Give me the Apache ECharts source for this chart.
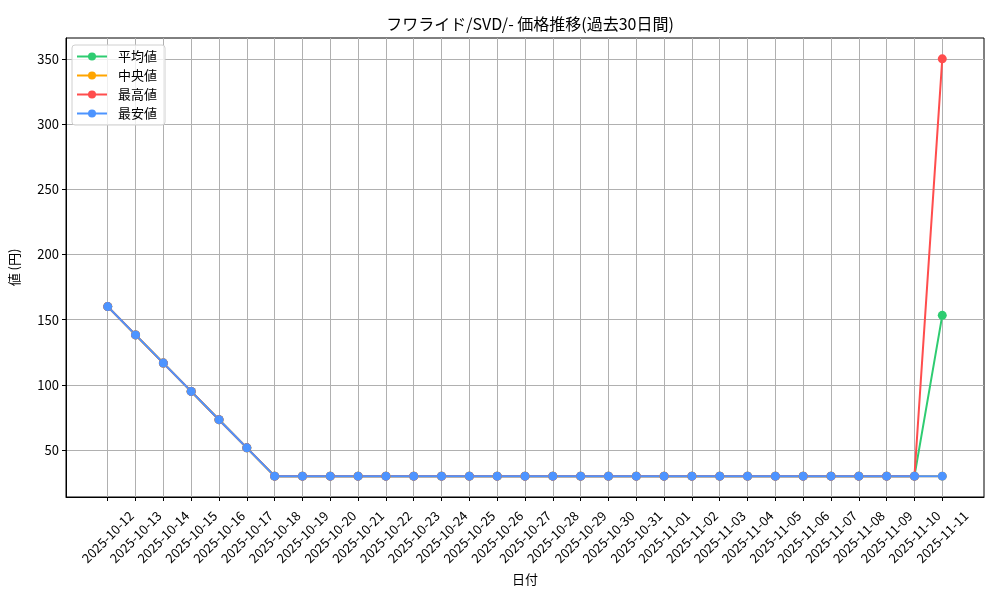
<!DOCTYPE html>
<html>
<head>
    <meta charset="utf-8">
    <title>フワライド/SVD/- 価格推移</title>
    <script src="https://cdn.jsdelivr.net/npm/echarts@6/dist/echarts.min.js"></script>
    <style>
        html, body { margin: 0; padding: 0; background: #fff; }
    </style>
</head>
<body>
<div id="chart-container" style="width: 1000px; height: 600px;"></div>
<script>
    // 日付 (x 軸ラベル)
    var dates = [
        '2025-10-12', '2025-10-13', '2025-10-14', '2025-10-15', '2025-10-16',
        '2025-10-17', '2025-10-18', '2025-10-19', '2025-10-20', '2025-10-21',
        '2025-10-22', '2025-10-23', '2025-10-24', '2025-10-25', '2025-10-26',
        '2025-10-27', '2025-10-28', '2025-10-29', '2025-10-30', '2025-10-31',
        '2025-11-01', '2025-11-02', '2025-11-03', '2025-11-04', '2025-11-05',
        '2025-11-06', '2025-11-07', '2025-11-08', '2025-11-09', '2025-11-10',
        '2025-11-11'
    ];

    // 価格 (円)
    var avgPrices = [160, 138.3, 116.7, 95, 73.3, 51.7,
        30, 30, 30, 30, 30, 30, 30, 30, 30, 30, 30, 30, 30, 30, 30, 30, 30, 30,
        30, 30, 30, 30, 30, 30, 153.3];
    var medianPrices = [160, 138.3, 116.7, 95, 73.3, 51.7,
        30, 30, 30, 30, 30, 30, 30, 30, 30, 30, 30, 30, 30, 30, 30, 30, 30, 30,
        30, 30, 30, 30, 30, 30, 30];
    var maxPrices = [160, 138.3, 116.7, 95, 73.3, 51.7,
        30, 30, 30, 30, 30, 30, 30, 30, 30, 30, 30, 30, 30, 30, 30, 30, 30, 30,
        30, 30, 30, 30, 30, 30, 350];
    var minPrices = [160, 138.3, 116.7, 95, 73.3, 51.7,
        30, 30, 30, 30, 30, 30, 30, 30, 30, 30, 30, 30, 30, 30, 30, 30, 30, 30,
        30, 30, 30, 30, 30, 30, 30];

    // y 軸の目盛り
    var yTicks = [50, 100, 150, 200, 250, 300, 350];

    var FONT = 'Noto Sans CJK JP';
    var xTicks = dates.map(function (d, i) { return i; });

    function pairs(values) {
        return values.map(function (v, i) { return [i, v]; });
    }

    function lineSeries(name, color, values) {
        return {
            name: name,
            type: 'line',
            data: pairs(values),
            symbol: 'circle',
            symbolSize: 9,
            lineStyle: { color: color, width: 2 },
            itemStyle: { color: color },
            emphasis: { disabled: true },
            animation: false
        };
    }

    var option = {
        backgroundColor: '#fff',
        textStyle: { fontFamily: FONT },
        title: {
            text: 'フワライド/SVD/- 価格推移(過去30日間)',
            left: 525,
            textAlign: 'center',
            top: 11,
            textStyle: { fontFamily: FONT, fontSize: 16, fontWeight: 'normal', color: '#000' }
        },
        legend: {
            orient: 'vertical',
            left: 72,
            top: 45,
            itemWidth: 30,
            itemHeight: 10,
            itemGap: 6,
            padding: [5, 8, 5, 4],
            backgroundColor: 'rgba(255,255,255,0.8)',
            borderColor: '#d0d0d0',
            borderWidth: 1,
            borderRadius: 3,
            textStyle: { fontFamily: FONT, fontSize: 13, color: '#000', padding: [0, 0, 0, 6] },
            data: ['平均値', '中央値', '最高値', '最安値']
        },
        grid: {
            left: 66,
            right: 16,
            top: 38,
            bottom: 103,
            show: true,
            borderColor: '#000',
            borderWidth: 1,
            containLabel: false,
            outerBoundsMode: 'none'
        },
        xAxis: {
            type: 'value',
            min: -1.5,
            max: 31.5,
            name: '日付',
            nameLocation: 'middle',
            nameGap: 76,
            nameTextStyle: { fontFamily: FONT, fontSize: 13, color: '#000' },
            axisLine: { show: true, onZero: false, lineStyle: { color: '#000', width: 1 } },
            axisTick: { show: true, length: 4, customValues: xTicks, lineStyle: { color: '#000' } },
            axisLabel: {
                customValues: xTicks,
                rotate: 45,
                align: 'center',
                verticalAlign: 'middle',
                margin: 40,
                fontFamily: FONT,
                fontSize: 13,
                color: '#000',
                hideOverlap: false,
                formatter: function (v) { return dates[v]; }
            },
            splitLine: { show: true, lineStyle: { color: '#b0b0b0', width: 1 } }
        },
        yAxis: {
            type: 'value',
            min: 14,
            max: 366,
            name: '値 (円)',
            nameLocation: 'middle',
            nameGap: 45,
            nameTextStyle: { fontFamily: FONT, fontSize: 13, color: '#000' },
            axisLine: { show: true, onZero: false, lineStyle: { color: '#000', width: 1 } },
            axisTick: { show: true, length: 4, customValues: yTicks, lineStyle: { color: '#000' } },
            axisLabel: {
                customValues: yTicks,
                margin: 7,
                fontFamily: FONT,
                fontSize: 13,
                color: '#000'
            },
            splitLine: { show: true, lineStyle: { color: '#b0b0b0', width: 1 } }
        },
        series: [
            lineSeries('平均値', '#2ecc71', avgPrices),
            lineSeries('中央値', '#ffa500', medianPrices),
            lineSeries('最高値', '#ff4d4d', maxPrices),
            lineSeries('最安値', '#4d94ff', minPrices)
        ]
    };

    var chart = echarts.init(document.getElementById('chart-container'));
    chart.setOption(option);
</script>
</body>
</html>
